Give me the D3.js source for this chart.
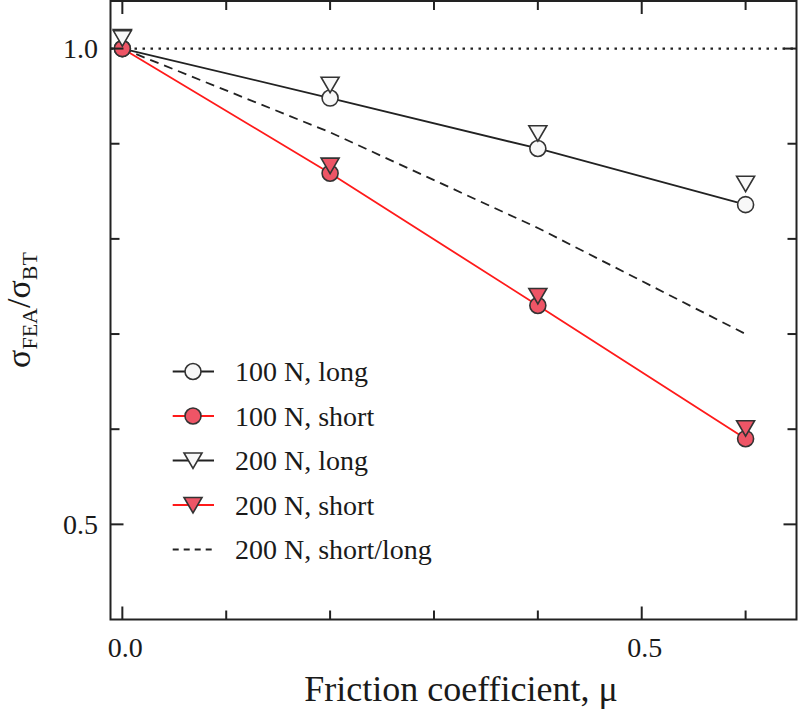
<!DOCTYPE html>
<html>
<head>
<meta charset="utf-8">
<script src="https://cdn.jsdelivr.net/npm/d3@7"></script>
<style>
  body { margin: 0; background: #fff; }
</style>
</head>
<body>
<div id="chart"></div>
<script>
// friction coefficient values
var mu = [0, 0.2, 0.4, 0.6];

// normalised stress sigma_FEA / sigma_BT
var long100 = [1.0, 0.948, 0.895, 0.836];
var short100 = [1.0, 0.869, 0.730, 0.590];
var long200 = [1.011, 0.962, 0.911, 0.858];
var short200 = [1.012, 0.877, 0.740, 0.601];
var ratio200 = [1.0, 0.912, 0.8115, 0.700];

var xTicks = [0, 0.1, 0.2, 0.3, 0.4, 0.5, 0.6];
var yTicks = [0.5, 0.6, 0.7, 0.8, 0.9, 1.0];
var xLabels = [0.0, 0.5];
var yLabels = [0.5, 1.0];

var legendNames = ["100 N, long", "100 N, short", "200 N, long", "200 N, short", "200 N, short/long"];

var W = 800, H = 714;
var frame = {left: 110.5, right: 796.5, top: 1, bottom: 619.5};
var serif = "'Liberation Serif', 'Times New Roman', Times, 'DejaVu Serif', serif";

var svg = d3.select("#chart")
    .append("svg")
    .attr("width", W)
    .attr("height", H)
    .attr("font-family", serif);

var x = d3.scaleLinear()
    .domain([-0.0114, 0.649])
    .range([frame.left, frame.right]);

var y = d3.scaleLinear()
    .domain([0.4, 1.05])
    .range([frame.bottom, frame.top]);

var red = "#ff1a1a";
var redFill = "#ee5566";
var ink = "#222";
var txt = "#1a1a1a";

function pts(vals) {
    return vals.map(function(v, i) { return [mu[i], v]; });
}

var line = d3.line()
    .x(function(d) { return x(d[0]); })
    .y(function(d) { return y(d[1]); });

// reference line at 1.0
svg.append("line")
    .attr("x1", frame.left).attr("x2", frame.right)
    .attr("y1", y(1.0)).attr("y2", y(1.0))
    .attr("stroke", ink)
    .attr("stroke-width", 2.2)
    .attr("stroke-dasharray", "2.5,5.5");

// ratio, dashed (stops a little short of the last mu)
svg.append("path")
    .datum(pts(ratio200))
    .attr("d", line)
    .attr("fill", "none")
    .attr("stroke", ink)
    .attr("stroke-width", 1.8)
    .attr("stroke-dasharray", "9,6");

svg.append("path")
    .datum(pts(long100))
    .attr("d", line)
    .attr("fill", "none")
    .attr("stroke", ink)
    .attr("stroke-width", 1.8);

svg.append("path")
    .datum(pts(short100))
    .attr("d", line)
    .attr("fill", "none")
    .attr("stroke", red)
    .attr("stroke-width", 1.8);

// markers
var tri = "M-9,-7.5L9,-7.5L0,8Z";

function circles(vals, fill) {
    svg.append("g").selectAll("circle")
        .data(pts(vals))
        .enter().append("circle")
        .attr("cx", function(d) { return x(d[0]); })
        .attr("cy", function(d) { return y(d[1]); })
        .attr("r", 8)
        .attr("fill", fill)
        .attr("stroke", "#333")
        .attr("stroke-width", 1.6);
}

function triangles(vals, fill) {
    svg.append("g").selectAll("path")
        .data(pts(vals))
        .enter().append("path")
        .attr("d", tri)
        .attr("transform", function(d) { return "translate(" + x(d[0]) + "," + y(d[1]) + ")"; })
        .attr("fill", fill)
        .attr("stroke", "#333")
        .attr("stroke-width", 1.6);
}

circles(long100, "#f8f8f8");
circles(short100, redFill);
triangles(short200, redFill);
triangles(long200, "#f8f8f8");

// frame
svg.append("rect")
    .attr("x", frame.left).attr("y", frame.top)
    .attr("width", frame.right - frame.left)
    .attr("height", frame.bottom - frame.top)
    .attr("fill", "none")
    .attr("stroke", ink)
    .attr("stroke-width", 2);

function isMajor(v, list) {
    return list.some(function(m) { return Math.abs(m - v) < 1e-6; });
}

// inward ticks on all four sides
xTicks.forEach(function(t) {
    var len = isMajor(t, xLabels) ? 13 : 9;
    svg.append("line")
        .attr("x1", x(t)).attr("x2", x(t))
        .attr("y1", frame.bottom).attr("y2", frame.bottom - len)
        .attr("stroke", ink).attr("stroke-width", 2);
    svg.append("line")
        .attr("x1", x(t)).attr("x2", x(t))
        .attr("y1", frame.top).attr("y2", frame.top + len)
        .attr("stroke", ink).attr("stroke-width", 2);
});

yTicks.forEach(function(t) {
    var len = isMajor(t, yLabels) ? 13 : 9;
    svg.append("line")
        .attr("x1", frame.left).attr("x2", frame.left + len)
        .attr("y1", y(t)).attr("y2", y(t))
        .attr("stroke", ink).attr("stroke-width", 2);
    svg.append("line")
        .attr("x1", frame.right).attr("x2", frame.right - len)
        .attr("y1", y(t)).attr("y2", y(t))
        .attr("stroke", ink).attr("stroke-width", 2);
});

// tick labels
svg.selectAll(".xl")
    .data(xLabels)
    .enter().append("text")
    .attr("x", function(d) { return x(d) + 3; })
    .attr("y", 657)
    .attr("text-anchor", "middle")
    .attr("fill", txt)
    .attr("font-family", serif)
    .attr("font-size", 28)
    .text(function(d) { return d3.format(".1f")(d); });

svg.selectAll(".yl")
    .data(yLabels)
    .enter().append("text")
    .attr("x", 98)
    .attr("y", function(d) { return y(d) + 9.5; })
    .attr("text-anchor", "end")
    .attr("fill", txt)
    .attr("font-family", serif)
    .attr("font-size", 28)
    .text(function(d) { return d3.format(".1f")(d); });

// axis titles
svg.append("text")
    .attr("x", 461)
    .attr("y", 701)
    .attr("text-anchor", "middle")
    .attr("fill", txt)
    .attr("font-family", serif)
    .attr("font-size", 36)
    .text("Friction coefficient, \u03bc");

var yt = svg.append("text")
    .attr("transform", "translate(30,310) rotate(-90)")
    .attr("text-anchor", "middle")
    .attr("fill", txt)
    .attr("font-family", serif)
    .attr("font-size", 34);
yt.append("tspan").text("\u03c3");
yt.append("tspan").attr("dy", 7).attr("font-size", 22).text("FEA");
yt.append("tspan").attr("dy", -7).text("/\u03c3");
yt.append("tspan").attr("dy", 7).attr("font-size", 22).text("BT");

// legend
var legX1 = 172.7, legX2 = 214, legSym = 193, legText = 235;
var legend = svg.selectAll(".legend")
    .data(legendNames)
    .enter().append("g")
    .attr("class", "legend")
    .attr("transform", function(d, i) { return "translate(0," + (371.5 + i * 44.5) + ")"; });

legend.append("line")
    .attr("x1", legX1).attr("x2", legX2)
    .attr("stroke", function(d, i) { return (i === 1 || i === 3) ? red : ink; })
    .attr("stroke-width", 1.8)
    .attr("stroke-dasharray", function(d, i) { return i === 4 ? "6,5" : null; });

legend.filter(function(d, i) { return i < 2; })
    .append("circle")
    .attr("cx", legSym)
    .attr("r", 8)
    .attr("fill", function(d, i) { return i === 1 ? redFill : "#f8f8f8"; })
    .attr("stroke", "#333")
    .attr("stroke-width", 1.6);

legend.filter(function(d, i) { return i === 2 || i === 3; })
    .append("path")
    .attr("d", tri)
    .attr("transform", "translate(" + legSym + ",0)")
    .attr("fill", function(d, i) { return i === 1 ? redFill : "#f8f8f8"; })
    .attr("stroke", "#333")
    .attr("stroke-width", 1.6);

legend.append("text")
    .attr("x", legText)
    .attr("y", 9.5)
    .attr("fill", txt)
    .attr("font-family", serif)
    .attr("font-size", 28)
    .text(function(d) { return d; });
</script>
</body>
</html>
